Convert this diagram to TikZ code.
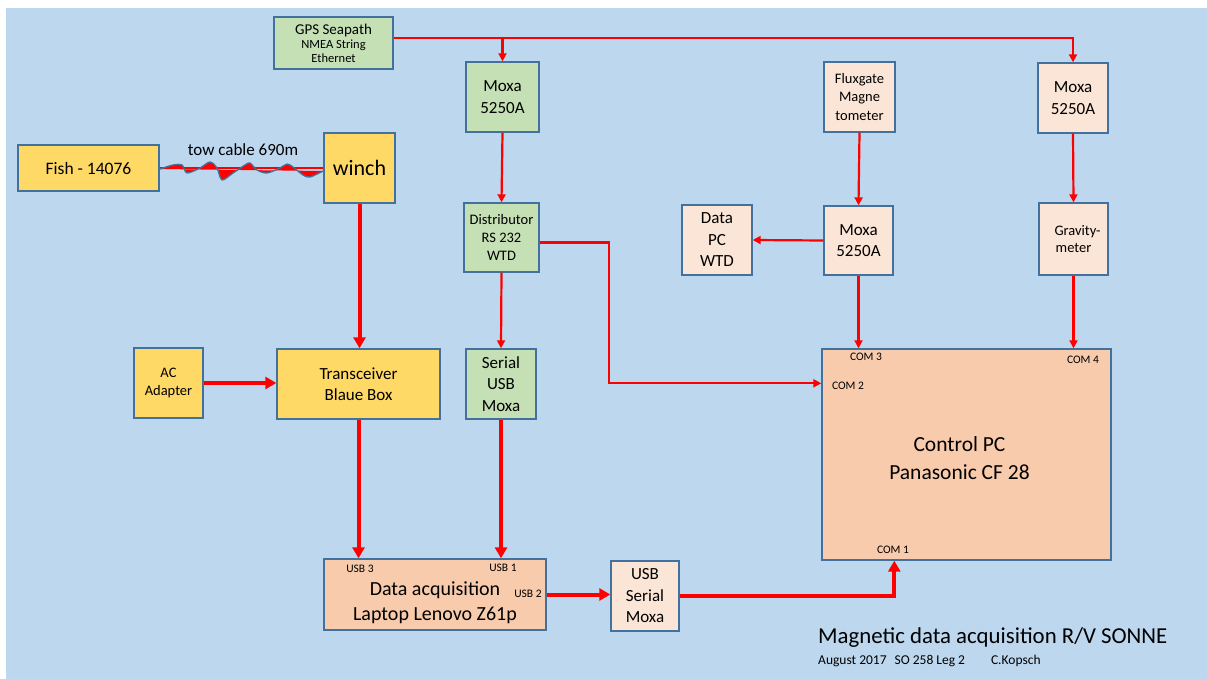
\documentclass[tikz,border=0pt]{standalone}
\usepackage{fontspec}
\setmainfont{Carlito}
\usetikzlibrary{calc,arrows.meta,positioning}
\definecolor{sea}{HTML}{BDD7EE}
\definecolor{boxline}{HTML}{41719C}
\definecolor{leaf}{HTML}{C5E0B4}
\definecolor{sun}{HTML}{FFD966}
\definecolor{peach}{HTML}{F8CBAD}
\definecolor{shell}{HTML}{FBE5D6}
\definecolor{wire}{HTML}{FF0000}
\newcommand{\fsize}[2]{\fontsize{#1}{#2}\selectfont}
\newcommand{\thinlink}[2]{%
  \draw[thinwire] (#1) -- (#2)}
\newcommand{\thicklink}[2]{%
  \draw[thickwire] (#1) -- (#2)}

\begin{document}
\begin{tikzpicture}[x=1pt, y=-1pt,
    box/.style={draw=boxline, line width=1.4pt, align=center, inner sep=0pt,
      font=\fsize{17}{21.5}},
    gbox/.style={box, fill=leaf},
    ybox/.style={box, fill=sun},
    pbox/.style={box, fill=peach},
    lbox/.style={box, fill=shell},
    port/.style={font=\fsize{11.5}{13}, inner sep=0pt},
    thinwire/.style={draw=wire, line width=2.2pt, -{Triangle[length=8pt,width=8pt]}},
    thickwire/.style={draw=wire, line width=4pt, -{Triangle[length=11pt,width=12pt]}}]
  \useasboundingbox (0,0) rectangle (1207,679);
  \fill[sea] (6,8) rectangle (1207,679);

  % top row
  \node[gbox, minimum width=119pt, minimum height=52pt, font=\fsize{12.5}{14}] (gps) at (333.5,43)
    {{\fsize{15}{16}\selectfont GPS Seapath}\\NMEA String\\Ethernet};
  \node[gbox, minimum width=73pt, minimum height=70pt] (moxaA) at (502.5,97) {Moxa\\5250A};
  \node[lbox, minimum width=71pt, minimum height=70pt, font=\fsize{14.5}{18.5}] (fluxgate) at (859.5,97)
    {Fluxgate\\Magne\\tometer};
  \node[lbox, minimum width=70pt, minimum height=70pt] (moxaC) at (1073,98) {Moxa\\5250A};

  % fish and winch
  \node[ybox, minimum width=141pt, minimum height=46pt, font=\fsize{17.5}{21}] (fish) at (88.5,168) {Fish - 14076};
  \node[ybox, minimum width=71pt, minimum height=70pt, font=\fsize{22}{24}] (winch) at (359.5,168) {winch};
  \node[font=\fsize{17}{20}, inner sep=0pt] (towlabel) at (243,150) {tow cable 690m};

  % middle row
  \node[gbox, minimum width=75pt, minimum height=69pt, font=\fsize{14.5}{18}] (distrib) at (501.5,237.5)
    {Distributor\\RS 232\\WTD};
  \node[lbox, minimum width=70pt, minimum height=70pt] (datapc) at (717,240) {Data\\PC\\WTD};
  \node[lbox, minimum width=69pt, minimum height=69pt] (moxaB) at (858.5,240.5) {Moxa\\5250A};
  \node[lbox, minimum width=69pt, minimum height=72pt, font=\fsize{14.5}{16.5}] (gravity) at (1073.5,239)
    {\hspace*{8pt}Gravity-\\meter};

  \node[ybox, minimum width=69pt, minimum height=70pt, font=\fsize{14.5}{18}] (acadapter) at (168.5,383)
    {AC\\Adapter};
  \node[ybox, minimum width=163pt, minimum height=70pt] (transceiver) at (358.5,384)
    {Transceiver\\Blaue Box};
  \node[gbox, minimum width=70pt, minimum height=70pt] (serialusb) at (501,384) {Serial\\USB\\Moxa};
  \node[pbox, minimum width=289pt, minimum height=211pt, font=\fsize{21.5}{28.5}] (controlpc) at (966.5,454.5)
    {\rule{0pt}{22pt}Control PC\hspace*{14pt}\\Panasonic CF 28\hspace*{14pt}};

  % bottom row
  \node[pbox, minimum width=222pt, minimum height=71pt, font=\fsize{20}{25}] (daq) at (435,594.5)
    {\rule{0pt}{31pt}Data acquisition\\Laptop Lenovo Z61p};
  \node[lbox, minimum width=68pt, minimum height=70pt] (usbmoxa) at (645,596) {USB\\Serial\\Moxa};

  % port labels
  \node[port] (com3lbl) at (866,357) {COM 3};
  \node[port] (com4lbl) at (1083,360) {COM 4};
  \node[port] (com2lbl) at (848,386) {COM 2};
  \node[port] (com1lbl) at (893,550) {COM 1};
  \node[port] (usb3lbl) at (360,569) {USB 3};
  \node[port] (usb1lbl) at (503,568) {USB 1};
  \node[port] (usb2lbl) at (528,594) {USB 2};

  % tow cable
  \draw[wire, line width=2pt] (fish.east) -- (winch.west);
  \fill[wire] plot[smooth] coordinates {(160,169) (173,165) (182,165) (187,173) (200,168) (210,162)
    (217,168) (222,180) (233,173) (245,165) (250,163) (257,170) (267,173) (280,168) (287,164)
    (293,167) (303,175) (310,177) (323,171)} -- cycle;
  \draw[boxline, line width=1.3pt] plot[smooth] coordinates {(160,169) (173,165) (182,165) (187,173)
    (200,168) (210,162) (217,168) (222,180) (233,173) (245,165) (250,163) (257,170) (267,173)
    (280,168) (287,164) (293,167) (303,175) (310,177) (323,171)};

  % serial lines
  \coordinate (gpsout) at ([yshift=5pt]gps.east);
  \draw[thinwire] (gpsout) -| (moxaC.north);
  \thinlink{gpsout -| moxaA.north}{moxaA.north};
  \thinlink{moxaA.south}{distrib.north};
  \thinlink{distrib.south}{serialusb.north};
  \coordinate (com2) at ($(controlpc.north west)+(0,35)$);
  \draw[thinwire] ([yshift=-5pt]distrib.east) -- ++(69,0) |- (com2);
  \thinlink{fluxgate.south}{moxaB.north};
  \thinlink{moxaB.west}{datapc.east};
  \thinlink{moxaB.south}{moxaB.south |- controlpc.north};
  \thinlink{moxaC.south}{gravity.north};
  \thinlink{gravity.south}{gravity.south |- controlpc.north};

  % USB and power lines
  \thicklink{winch.south}{winch.south |- transceiver.north};
  \thicklink{acadapter.east}{acadapter.east -| transceiver.west};
  \thicklink{transceiver.south}{transceiver.south |- daq.north};
  \thicklink{serialusb.south}{serialusb.south |- daq.north};
  \thicklink{daq.east}{daq.east -| usbmoxa.west};
  \coordinate (com1) at ($(controlpc.south west)+(73,0)$);
  \draw[thickwire] (usbmoxa.east) -| (com1);

  % caption
  \node[anchor=west, font=\fsize{22.8}{25}, inner sep=0pt] (title) at (818,638)
    {Magnetic data acquisition R/V SONNE};
  \node[anchor=west, font=\fsize{13.5}{15}, inner sep=0pt] (subtitle) at (818,661)
    {August 2017\hspace{8pt}SO 258 Leg 2\hspace{26pt}C.Kopsch};
\end{tikzpicture}
\end{document}
